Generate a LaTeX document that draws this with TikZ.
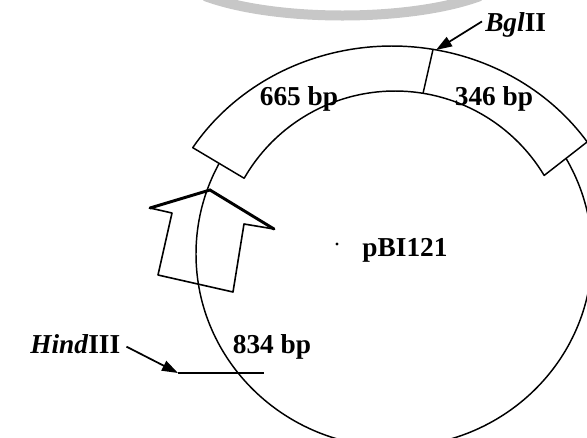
\documentclass[tikz,border=0pt]{standalone}
\usepackage{fontspec}
\setmainfont{Liberation Serif}
\usetikzlibrary{arrows.meta}
\begin{document}
\begin{tikzpicture}[x=0.75pt,y=-0.75pt,
  lbl/.style={font=\fontsize{20.5}{22}\selectfont\bfseries, inner sep=0pt},
  ring/.style={line width=1.1pt, line join=round},
  boxline/.style={line width=1.1pt, line join=round, fill=white},
  headedge/.style={line width=2.2pt, line cap=round},
  shaftline/.style={line width=1.2pt, line join=round},
  ptr/.style={line width=1.3pt, -{Triangle[length=12pt,width=8pt]}},
  wmark/.style={line width=7.5pt, black!22}]
\useasboundingbox (0,0) rectangle (587,437);
\clip (0,0) rectangle (587,437);
% faint watermark band at the top
\draw[wmark] (205,-4) .. controls (275,22) and (410,22) .. (480,-4);
% plasmid ring
\draw[ring] (394,254) ellipse [x radius=198, y radius=193];
% inserted segment (box)
\coordinate (IR) at (544.2,175.4);
\draw[boxline] plot[domain=-147.6:-34.2, samples=80] ({392+236*cos(\x)},{265+219*sin(\x)})
   -- (IR)
   -- plot[domain=-31:-150.1, samples=80] ({395+174*cos(\x)},{265+174*sin(\x)})
   -- cycle;
% BglII separator
\coordinate (bgtop) at (433,49.5);
\coordinate (bgbot) at (423,93.5);
\draw[line width=1.1pt] (bgtop) -- (bgbot);
% block arrow (promoter)
\coordinate (tip) at (210,190);
\coordinate (lb) at (150,208);
\coordinate (tl) at (172,213);
\coordinate (bl) at (158,275);
\coordinate (br) at (233,292);
\coordinate (tr) at (244,224);
\coordinate (rb) at (274,229);
\draw[shaftline] (lb) -- (tl) -- (bl) -- (br) -- (tr) -- (rb);
\draw[headedge] (lb) -- (tip) -- (rb);
% labels
\node[lbl, anchor=base] (l665) at (299,105) {665 bp};
\node[lbl, anchor=base] (l346) at (494,105) {346 bp};
\node[lbl, anchor=base] (lpbi) at (405,256) {pBI121};
\node[lbl, anchor=base] (l834) at (272,353) {834 bp};
\node[lbl, anchor=base west] (lhind) at (30,353) {\textit{Hind}III};
\node[lbl, anchor=base west] (lbgl) at (485,31) {\textit{Bgl}II};
% centre dot
\fill (337,244) circle [radius=1.3pt];
% HindIII site
\coordinate (hindtip) at (178,373);
\coordinate (hindend) at (264,373);
\draw[line width=1.1pt] (hindtip) -- (hindend);
\draw[ptr] ([shift={(6,3)}]lhind.east) -- (hindtip);
% BglII site
\coordinate (bgltip) at (436,50);
\draw[ptr] ([shift={(-3,-3)}]lbgl.west) -- (bgltip);
\end{tikzpicture}
\end{document}
